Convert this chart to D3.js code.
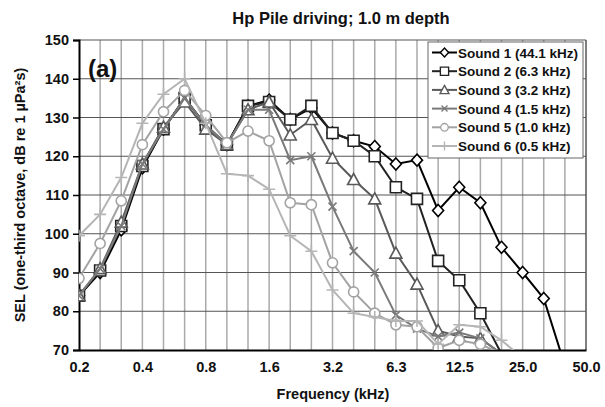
<!DOCTYPE html>
<html>
<head>
<meta charset="utf-8">
<script src="https://cdn.jsdelivr.net/npm/d3@7"></script>
<style>
  body { margin: 0; background: #fff; }
  svg text { font-family: "Liberation Sans", Arial, sans-serif; font-weight: bold; fill: #111; }
</style>
</head>
<body>
<div id="chart"></div>
<script>
// One-third octave band centre frequencies (kHz)
const categories = ['0.2', '0.25', '0.315', '0.4', '0.5', '0.63', '0.8', '1.0', '1.25', '1.6',
    '2.0', '2.5', '3.15', '4.0', '5.0', '6.3', '8.0', '10', '12.5', '16', '20', '25', '31.5', '40', '50'];
const tickCategories = ['0.2', '0.4', '0.8', '1.6', '3.15', '6.3', '12.5', '25', '50'];
const tickLabels = ['0.2', '0.4', '0.8', '1.6', '3.2', '6.3', '12.5', '25.0', '50.0'];
const yTicks = [70, 80, 90, 100, 110, 120, 130, 140, 150];

const seriesNames = ['Sound 1 (44.1 kHz)', 'Sound 2 (6.3 kHz)', 'Sound 3 (3.2 kHz)',
    'Sound 4 (1.5 kHz)', 'Sound 5 (1.0 kHz)', 'Sound 6 (0.5 kHz)'];

const sound1 = [84, 90, 101, 117, 127, 135, 128, 123, 133, 134.5, 129.5, 132.5, 126, 124, 122.5, 118, 119, 106, 112, 108, 96.5, 90, 83.3, 66];
const sound2 = [84, 90.5, 102, 117.5, 127, 135, 128, 123, 133, 134, 129.5, 133, 126, 124, 120, 112, 109, 93, 88, 79.5, 69];
const sound3 = [84, 91, 103, 118, 127.5, 134, 127, 123, 132, 134, 125.5, 129.5, 119.5, 114, 109, 95, 87, 75, 73.5, 73, 69];
const sound4 = [84, 91, 102, 118, 127, 135, 128, 123, 132, 132, 119, 120, 107, 95.5, 90, 79, 75.5, 73.5, 74.5, 73, 69];
const sound5 = [88.5, 97.5, 108.5, 123, 131.5, 137, 130.5, 123.5, 126.5, 124, 108, 107.5, 92.5, 85, 79.5, 76.5, 76, 70.5, 72.5, 71.5, 69];
const sound6 = [99.5, 105, 114.5, 128.5, 136, 140, 128.5, 115.5, 115, 111.5, 99.5, 95.5, 85.5, 79.5, 78.5, 77.5, 77.5, 71.5, 76.5, 76, 72.5, 68];

const allSeries = [sound1, sound2, sound3, sound4, sound5, sound6];
const colors = ['#000000', '#222222', '#595959', '#7a7a7a', '#a3a3a3', '#b5b5b5'];
const markers = ['diamond', 'square', 'triangle', 'x', 'circle', 'plus'];

const W = 605, H = 407;
const margin = { top: 40, right: 19, bottom: 57, left: 79 };
const width = W - margin.left - margin.right;
const height = H - margin.top - margin.bottom;

const svg = d3.select('#chart').append('svg')
    .attr('width', W)
    .attr('height', H);

const g = svg.append('g')
    .attr('transform', `translate(${margin.left},${margin.top})`);

const x = d3.scalePoint().domain(categories).range([0, width]).padding(0);
const y = d3.scaleLinear().domain([70, 150]).range([height, 0]);

// Title
svg.append('text')
    .attr('x', 341).attr('y', 24)
    .attr('text-anchor', 'middle')
    .style('font-size', '16.5px')
    .text('Hp Pile driving; 1.0 m depth');

// Vertical grid (every band)
g.append('g')
    .selectAll('line')
    .data(categories.slice(1))
    .join('line')
    .attr('x1', d => x(d)).attr('x2', d => x(d))
    .attr('y1', 0).attr('y2', height)
    .attr('stroke', '#aaaaaa')
    .attr('stroke-width', 1.5);

// Horizontal grid
g.append('g')
    .selectAll('line')
    .data(yTicks.slice(1, -1))
    .join('line')
    .attr('x1', 0).attr('x2', width)
    .attr('y1', d => y(d)).attr('y2', d => y(d))
    .attr('stroke', '#555555')
    .attr('stroke-width', 1.2);

// Frame: top and right in grey
g.append('line').attr('x1', 0).attr('x2', width).attr('y1', 0).attr('y2', 0)
    .attr('stroke', '#555').attr('stroke-width', 1.2);
g.append('line').attr('x1', width).attr('x2', width).attr('y1', 0).attr('y2', height)
    .attr('stroke', '#555').attr('stroke-width', 1.2);

// Axes
const yAxis = g.append('g')
    .call(d3.axisLeft(y).tickValues(yTicks).tickSize(6).tickPadding(4));
yAxis.select('.domain').attr('stroke', '#000').attr('stroke-width', 2);
yAxis.selectAll('.tick line').attr('stroke', '#000').attr('stroke-width', 1.5);
yAxis.selectAll('.tick text').style('font-size', '14.5px').attr('fill', '#111');

const xAxis = g.append('g')
    .attr('transform', `translate(0,${height})`)
    .call(d3.axisBottom(x).tickValues(tickCategories)
        .tickFormat(d => tickLabels[tickCategories.indexOf(d)])
        .tickSize(0).tickPadding(12));
xAxis.select('.domain').attr('stroke', '#000').attr('stroke-width', 2);
xAxis.selectAll('.tick text').style('font-size', '14.5px').attr('fill', '#111');

// Axis labels
svg.append('text')
    .attr('x', 333).attr('y', 399)
    .attr('text-anchor', 'middle')
    .style('font-size', '14.5px')
    .text('Frequency (kHz)');

svg.append('text')
    .attr('transform', 'rotate(-90)')
    .attr('x', -(margin.top + height / 2)).attr('y', 25)
    .attr('text-anchor', 'middle')
    .style('font-size', '14.5px')
    .text('SEL (one-third octave, dB re 1 µPa²s)');

// Panel label
g.append('text')
    .attr('x', 9).attr('y', 37)
    .style('font-size', '24px')
    .text('(a)');

// Clip for series
svg.append('defs').append('clipPath').attr('id', 'plot-clip')
    .append('rect').attr('x', 0).attr('y', -10).attr('width', width).attr('height', height + 10);

function markerPath(type) {
    switch (type) {
        case 'diamond': return 'M0,-6L5.5,0L0,6L-5.5,0Z';
        case 'square': return 'M-5.5,-5.5H5.5V5.5H-5.5Z';
        case 'triangle': return 'M0,-6L6,5L-6,5Z';
        case 'x': return 'M-4,-4L4,4M-4,4L4,-4';
        case 'circle': return d3.symbol(d3.symbolCircle, 80)();
        case 'plus': return 'M-6,0H6M0,-6V6';
    }
}

const line = d3.line()
    .x((d, i) => x(categories[i]))
    .y(d => y(d));

const plot = g.append('g').attr('clip-path', 'url(#plot-clip)');

allSeries.forEach((values, s) => {
    plot.append('path')
        .datum(values)
        .attr('fill', 'none')
        .attr('stroke', colors[s])
        .attr('stroke-width', 2)
        .attr('d', line);

    plot.append('g')
        .selectAll('path')
        .data(values.map((v, i) => ({ v, i })).filter(d => d.v >= 70))
        .join('path')
        .attr('transform', d => `translate(${x(categories[d.i])},${y(d.v)})`)
        .attr('d', markerPath(markers[s]))
        .attr('fill', (markers[s] === 'x' || markers[s] === 'plus') ? 'none' : '#fff')
        .attr('stroke', colors[s])
        .attr('stroke-width', 1.6);
});

// Legend
const legend = g.append('g').attr('transform', `translate(${width - 158},2)`);
legend.append('rect')
    .attr('width', 155).attr('height', 116)
    .attr('fill', '#fff')
    .attr('stroke', '#666')
    .attr('stroke-width', 1);

seriesNames.forEach((name, s) => {
    const row = legend.append('g').attr('transform', `translate(0,${10.5 + s * 18.7})`);
    row.append('line')
        .attr('x1', 4).attr('x2', 29).attr('y1', 0).attr('y2', 0)
        .attr('stroke', colors[s]).attr('stroke-width', 2);
    row.append('path')
        .attr('transform', 'translate(16.5,0) scale(0.75)')
        .attr('d', markerPath(markers[s]))
        .attr('fill', (markers[s] === 'x' || markers[s] === 'plus') ? 'none' : '#fff')
        .attr('stroke', colors[s])
        .attr('stroke-width', 1.8);
    row.append('text')
        .attr('x', 30).attr('y', 5)
        .style('font-size', '13.5px')
        .text(name);
});
</script>
</body>
</html>
